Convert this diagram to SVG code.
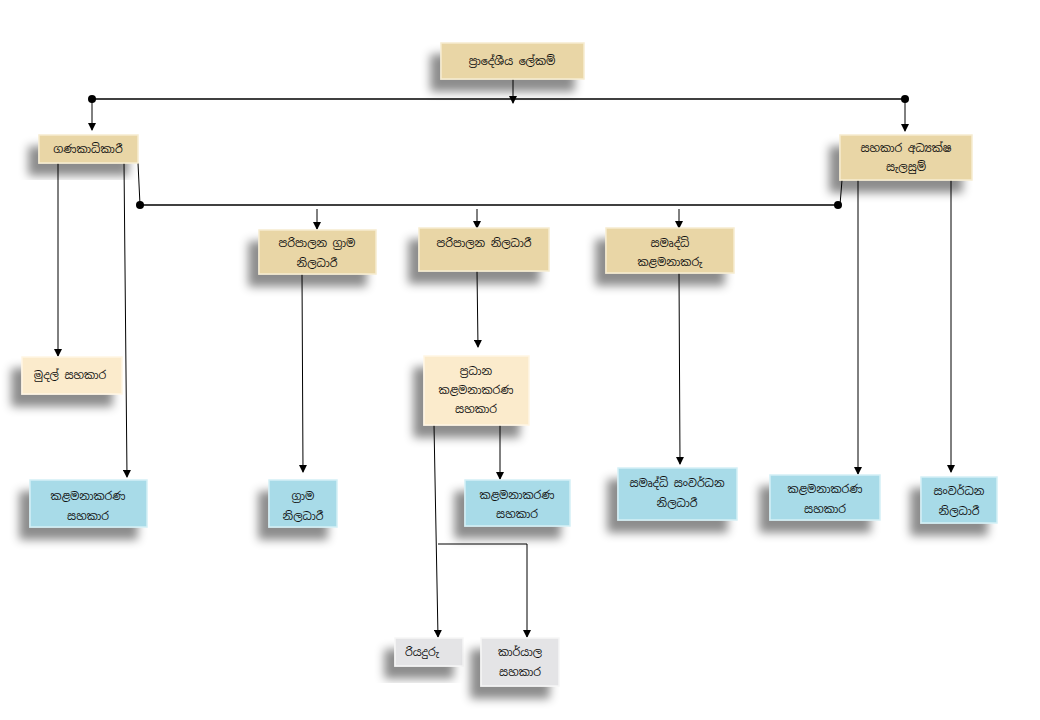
<svg xmlns="http://www.w3.org/2000/svg" width="1040" height="720" viewBox="0 0 1040 720">
<style>
.t{font-family:"Noto Sans Sinhala","Noto Sans","DejaVu Sans",sans-serif;font-size:11px;fill:#111;text-anchor:middle}
.tan rect{fill:#e9d6a6;stroke:#f6ecd0;stroke-width:1.5;filter:url(#sh)}
.cream rect{fill:#fbebcc;stroke:#fff6e4;stroke-width:1.5;filter:url(#sh)}
.blue rect{fill:#a8dbe8;stroke:#d4f0f6;stroke-width:1.5;filter:url(#sh)}
.gray rect{fill:#e4e4e6;stroke:#f6f6f6;stroke-width:1.5;filter:url(#sh)}
.gp rect{fill:#e4dcc8}
#conn line,#conn polyline{stroke:#000;fill:none;stroke-width:1}
#conn .b{stroke-width:1.5}
</style>
<defs>
<filter id="sh" x="-40%" y="-40%" width="180%" height="200%">
<feDropShadow dx="-10" dy="12" stdDeviation="5" flood-color="#000" flood-opacity="0.45"/>
</filter>
<marker id="a" markerWidth="8" markerHeight="8" refX="7" refY="4" orient="auto" markerUnits="userSpaceOnUse">
<path d="M0,0 L8,4 L0,8 z" fill="#000"/>
</marker>
</defs>
<rect width="1040" height="720" fill="#fff"/>
<g id="conn">
<line class="b" x1="92" y1="99" x2="905" y2="99"/>
<circle cx="92" cy="99" r="4"/><circle cx="905" cy="99" r="4"/>
<line x1="513" y1="79" x2="513" y2="103" marker-end="url(#a)"/>
<line x1="92" y1="99" x2="92" y2="130" marker-end="url(#a)"/>
<line x1="905" y1="99" x2="905" y2="131" marker-end="url(#a)"/>
<line class="b" x1="140" y1="205" x2="838" y2="205"/>
<circle cx="140" cy="205" r="4"/><circle cx="838" cy="205" r="4"/>
<line x1="138" y1="163" x2="140" y2="205"/>
<line x1="842" y1="180" x2="840" y2="205"/>
<line x1="317" y1="209" x2="317" y2="229" marker-end="url(#a)"/>
<line x1="477" y1="209" x2="477" y2="228" marker-end="url(#a)"/>
<line x1="679" y1="209" x2="679" y2="228" marker-end="url(#a)"/>
<line x1="58" y1="163" x2="58" y2="356" marker-end="url(#a)"/>
<line x1="124" y1="163" x2="127" y2="477" marker-end="url(#a)"/>
<line x1="302" y1="274" x2="303" y2="472" marker-end="url(#a)"/>
<line x1="477" y1="271" x2="478" y2="347" marker-end="url(#a)"/>
<line x1="679" y1="273" x2="680" y2="464" marker-end="url(#a)"/>
<line x1="858" y1="180" x2="858" y2="474" marker-end="url(#a)"/>
<line x1="951" y1="180" x2="951" y2="472" marker-end="url(#a)"/>
<line x1="500" y1="425" x2="500" y2="479" marker-end="url(#a)"/>
<line x1="434" y1="425" x2="438" y2="637" marker-end="url(#a)"/>
<polyline points="438,544 527,544 527,637" marker-end="url(#a)"/>
</g>
<g id="n1" class="tan"><rect x="441" y="43" width="143" height="36"/><text class="t" x="512" y="65">ප්‍රාදේශීය ලේකම්</text></g>
<g id="n2" class="tan"><rect x="39" y="135" width="99" height="28"/><text class="t" x="88" y="153">ගණකාධිකාරී</text></g>
<g id="n3" class="tan"><rect x="840" y="135" width="132" height="45"/><text class="t" x="906" y="152">සහකාර  අධ්‍යක්ෂ</text><text class="t" x="906" y="171">සැලසුම්</text></g>
<g id="n4" class="tan"><rect x="259" y="230" width="117" height="44"/><text class="t" x="317" y="247">පරිපාලන  ග්‍රාම</text><text class="t" x="317" y="267">නිලධාරී</text></g>
<g id="n5" class="tan"><rect x="419" y="228" width="130" height="43"/><text class="t" x="484" y="247">පරිපාලන  නිලධාරී</text></g>
<g id="n6" class="tan"><rect x="606" y="228" width="128" height="45"/><text class="t" x="670" y="247">සමෘද්ධි</text><text class="t" x="670" y="266">කළමනාකරු</text></g>
<g id="n7" class="cream"><rect x="22" y="357" width="100" height="37"/><text class="t" x="70" y="379">මුදල් සහකාර</text></g>
<g id="n8" class="cream"><rect x="424" y="356" width="105" height="69"/><text class="t" x="476" y="375">ප්‍රධාන</text><text class="t" x="476" y="394">කළමනාකරණ</text><text class="t" x="476" y="413">සහකාර</text></g>
<g id="n9" class="blue"><rect x="30" y="480" width="117" height="47"/><text class="t" x="88" y="500">කළමනාකරණ</text><text class="t" x="88" y="520">සහකාර</text></g>
<g id="n10" class="blue"><rect x="269" y="480" width="68" height="47"/><text class="t" x="303" y="500">ග්‍රාම</text><text class="t" x="303" y="520">නිලධාරී</text></g>
<g id="n11" class="blue"><rect x="465" y="480" width="105" height="46"/><text class="t" x="517" y="499">කළමනාකරණ</text><text class="t" x="517" y="518">සහකාර</text></g>
<g id="n12" class="blue"><rect x="618" y="468" width="119" height="52"/><text class="t" x="677" y="487">සමෘද්ධි සංවර්ධන</text><text class="t" x="677" y="507">නිලධාරී</text></g>
<g id="n13" class="blue"><rect x="770" y="475" width="110" height="45"/><text class="t" x="825" y="493">කළමනාකරණ</text><text class="t" x="825" y="513">සහකාර</text></g>
<g id="n14" class="blue"><rect x="921" y="477" width="76" height="46"/><text class="t" x="959" y="495">සංවර්ධන</text><text class="t" x="959" y="515">නිලධාරී</text></g>
<g id="n15" class="gray"><rect x="395" y="638" width="68" height="28"/><text class="t" x="422" y="656">රියදුරු</text></g>
<g id="n16" class="gray"><rect x="481" y="638" width="78" height="48"/><text class="t" x="520" y="656">කාර්යාල</text><text class="t" x="520" y="676">සහකාර</text></g>
</svg>
